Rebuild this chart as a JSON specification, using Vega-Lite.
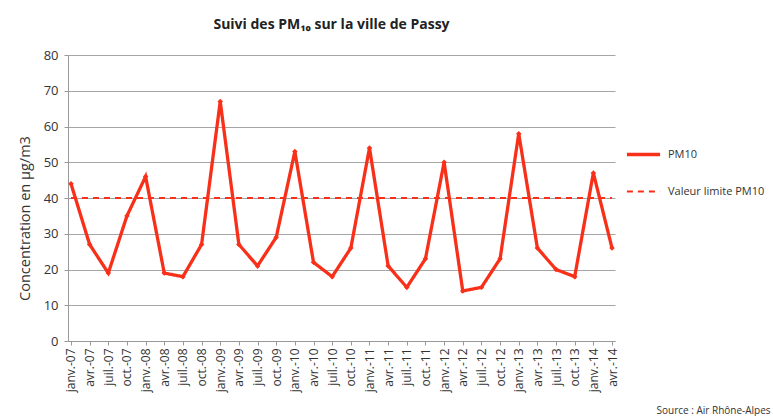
{
  "$schema": "https://vega.github.io/schema/vega-lite/v6.json",
  "width": 547,
  "height": 286,
  "autosize": {"type": "none"},
  "padding": {"left": 68, "top": 55, "right": 158, "bottom": 75},
  "background": "white",
  "config": {"view": {"stroke": null}, "font": "Open Sans"},
  "title": {"text": "Suivi des PM₁₀ sur la ville de Passy", "fontSize": 14, "fontWeight": "bold", "font": "Open Sans", "color": "#222", "anchor": "middle", "dx": -10, "offset": 17},
  "data": {"values": [
    {"d": "janv.-07", "PM10": 44, "Valeur limite PM10": 40},
    {"d": "avr.-07", "PM10": 27, "Valeur limite PM10": 40},
    {"d": "juil.-07", "PM10": 19, "Valeur limite PM10": 40},
    {"d": "oct.-07", "PM10": 35, "Valeur limite PM10": 40},
    {"d": "janv.-08", "PM10": 46, "Valeur limite PM10": 40},
    {"d": "avr.-08", "PM10": 19, "Valeur limite PM10": 40},
    {"d": "juil.-08", "PM10": 18, "Valeur limite PM10": 40},
    {"d": "oct.-08", "PM10": 27, "Valeur limite PM10": 40},
    {"d": "janv.-09", "PM10": 67, "Valeur limite PM10": 40},
    {"d": "avr.-09", "PM10": 27, "Valeur limite PM10": 40},
    {"d": "juil.-09", "PM10": 21, "Valeur limite PM10": 40},
    {"d": "oct.-09", "PM10": 29, "Valeur limite PM10": 40},
    {"d": "janv.-10", "PM10": 53, "Valeur limite PM10": 40},
    {"d": "avr.-10", "PM10": 22, "Valeur limite PM10": 40},
    {"d": "juil.-10", "PM10": 18, "Valeur limite PM10": 40},
    {"d": "oct.-10", "PM10": 26, "Valeur limite PM10": 40},
    {"d": "janv.-11", "PM10": 54, "Valeur limite PM10": 40},
    {"d": "avr.-11", "PM10": 21, "Valeur limite PM10": 40},
    {"d": "juil.-11", "PM10": 15, "Valeur limite PM10": 40},
    {"d": "oct.-11", "PM10": 23, "Valeur limite PM10": 40},
    {"d": "janv.-12", "PM10": 50, "Valeur limite PM10": 40},
    {"d": "avr.-12", "PM10": 14, "Valeur limite PM10": 40},
    {"d": "juil.-12", "PM10": 15, "Valeur limite PM10": 40},
    {"d": "oct.-12", "PM10": 23, "Valeur limite PM10": 40},
    {"d": "janv.-13", "PM10": 58, "Valeur limite PM10": 40},
    {"d": "avr.-13", "PM10": 26, "Valeur limite PM10": 40},
    {"d": "juil.-13", "PM10": 20, "Valeur limite PM10": 40},
    {"d": "oct.-13", "PM10": 18, "Valeur limite PM10": 40},
    {"d": "janv.-14", "PM10": 47, "Valeur limite PM10": 40},
    {"d": "avr.-14", "PM10": 26, "Valeur limite PM10": 40}
  ]},
  "transform": [{"fold": ["PM10", "Valeur limite PM10"], "as": ["serie", "valeur"]}],
  "encoding": {
    "x": {"field": "d", "type": "ordinal", "sort": null,
      "scale": {"type": "point", "padding": 0.16},
      "axis": {"title": "Source : Air Rhône-Alpes", "titleFontSize": 10, "titleFontWeight": "normal", "titleColor": "#333", "titleAnchor": "start", "titleAlign": "left", "titleX": 588, "titleY": 72, "titleBaseline": "alphabetic",
        "labelAngle": 270, "labelFontSize": 12, "labelColor": "#333", "labelPadding": 3,
        "domainColor": "#999", "tickColor": "#999", "tickSize": 4, "grid": false}},
    "y": {"field": "valeur", "type": "quantitative",
      "scale": {"domain": [0, 80]},
      "axis": {"title": "Concentration  en µg/m3", "titleFontSize": 14.5, "titleFontWeight": "normal", "titleColor": "#333", "titleX": -43, "titleY": 163, "titleBaseline": "middle", "titleAlign": "center", "titleAngle": 270,
        "values": [0, 10, 20, 30, 40, 50, 60, 70, 80], "labelFontSize": 13, "labelColor": "#333", "labelPadding": 6,
        "domainColor": "#999", "tickColor": "#999", "tickSize": 4, "gridColor": "#a6a6a6", "gridWidth": 1.2}}
  },
  "layer": [
    {"mark": {"type": "line", "color": "#f8301a"},
      "encoding": {
        "strokeDash": {"field": "serie", "type": "nominal",
          "scale": {"domain": ["PM10", "Valeur limite PM10"], "range": [[1, 0], [6, 5]]},
          "legend": {"title": null, "orient": "none", "legendX": 557, "legendY": 81, "symbolType": "stroke", "symbolSize": 1100, "symbolStrokeColor": "#f8301a", "labelFontSize": 11, "labelColor": "#333", "rowPadding": 12, "labelOffset": 6}},
        "strokeWidth": {"field": "serie", "type": "nominal",
          "scale": {"domain": ["PM10", "Valeur limite PM10"], "range": [3.3, 1.8]}, "legend": null}
      }},
    {"transform": [{"filter": "datum.serie === 'PM10'"}],
      "mark": {"type": "point", "shape": "diamond", "filled": true, "color": "#f8301a", "size": 30, "opacity": 1},
      "encoding": {}}
  ]
}
